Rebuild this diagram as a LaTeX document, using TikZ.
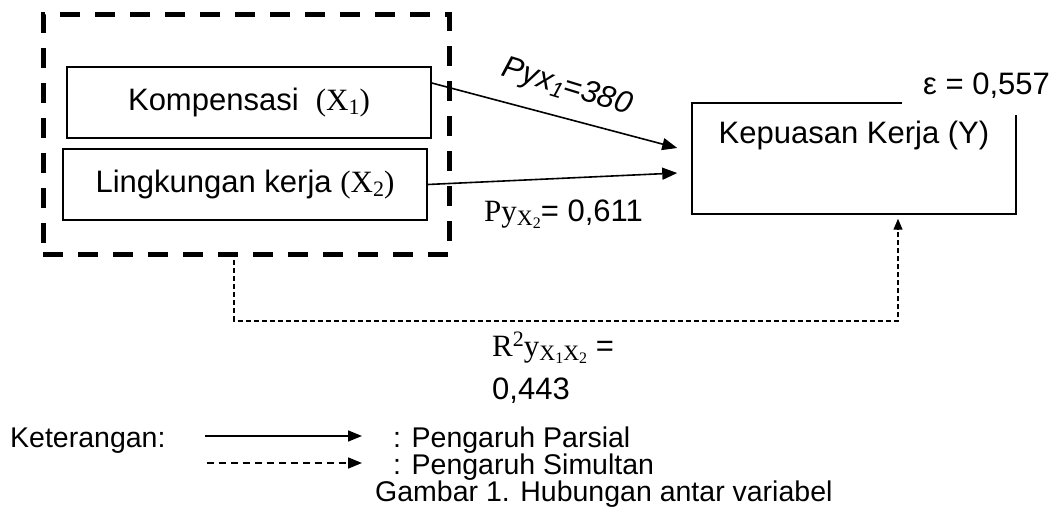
\documentclass[tikz,border=0pt]{standalone}
\usepackage{fontspec}
\setmainfont{Liberation Sans}
\newfontfamily\serifont{Liberation Serif}
\newcommand{\subA}[1]{\raisebox{-0.28ex}{\fontsize{22}{22}\selectfont #1}}
\newcommand{\subB}[1]{\raisebox{-0.22ex}{\fontsize{16}{16}\selectfont #1}}
\newcommand{\supA}[1]{\raisebox{0.75ex}{\fontsize{22}{22}\selectfont #1}}
\usetikzlibrary{arrows.meta,calc}
\begin{document}
\begin{tikzpicture}[x=1pt,y=-1pt,
  big/.style={font=\fontsize{31}{33}\selectfont},
  small/.style={font=\fontsize{28.5}{31}\selectfont},
  box/.style={draw, line width=1.5pt, minimum width=364pt, minimum height=71pt, inner sep=0pt, big},
  group/.style={draw, line width=5pt, dash pattern=on 20pt off 15pt, minimum width=406pt, minimum height=240pt},
  arr/.style={line width=1.6pt, -{Triangle[length=15pt,width=12pt]}},
  simul/.style={line width=1.2pt, dash pattern=on 5pt off 3pt, -{Triangle[length=11pt,width=9pt]}},
  legarr/.style={line width=1.6pt, -{Triangle[length=14pt,width=11pt]}},
  legdash/.style={line width=1.6pt, dash pattern=on 7pt off 5pt, -{Triangle[length=14pt,width=11pt]}}
]
\useasboundingbox (0,0) rectangle (1055,518);
\node (G) [group] at (246,135) {};
\node (K) [box] at (249,102.5) {Kompensasi\ \ {\serifont (X\subA{1})}};
\node (L) [box] at (245,184.5) {Lingkungan kerja {\serifont (X\subA{2})}};
\node (Y) [draw, line width=1.5pt, minimum width=324pt, minimum height=111pt] at (854,158.5) {};
\node (Yt) [big] at (854,135) {Kepuasan Kerja (Y)};
\node (eps) [fill=white, anchor=base west, inner xsep=21pt, inner ysep=16pt, big] at (902,95) {ε = 0,557};
\draw[arr] ([yshift=19.5pt]K.east) -- ([xshift=-14pt,yshift=10.5pt]Y.west);
\draw[arr] (L.east) -- ([xshift=-14pt,yshift=-14.5pt]Y.west);
\node (p1) [big, rotate=-17] at (567,88) {\textit{Pyx\subA{1}=380}};
\node (p2) [big, anchor=base west, inner sep=0pt] at (484,222) {{\serifont Py\subA{X\subB{2}}}= 0,611};
\coordinate (s1) at (234,321);
\coordinate (s2) at (898,321);
\draw[simul, shorten <=3pt, shorten >=4pt] (G.south -| s1) -- (s1) -- (s2) -- (s2 |- Y.south);
\node (r2) [big, anchor=base west, inner sep=0pt] at (492,357) {{\serifont R\supA{2}y\subA{X\subB{1}X\subB{2}}} =};
\node (r2b) [big, anchor=base west, inner sep=0pt] at (492,400) {0,443};
\node (ket) [small, anchor=base west, inner sep=0pt] at (10,447) {Keterangan:};
\coordinate (a1) at (205,436);
\coordinate (a2) at (362,436);
\coordinate (b1) at (207,463);
\coordinate (b2) at (362,463);
\node (parsial) [small, anchor=base west, inner sep=0pt] at (393,447) {: Pengaruh Parsial};
\node (simultan) [small, anchor=base west, inner sep=0pt] at (393,474) {: Pengaruh Simultan};
\draw[legarr] (a1) -- (a2);
\draw[legdash] (b1) -- (b2);
\node (gambar) [small, anchor=base west, inner sep=0pt] at (375,501) {Gambar 1. Hubungan antar variabel};
\end{tikzpicture}
\end{document}
